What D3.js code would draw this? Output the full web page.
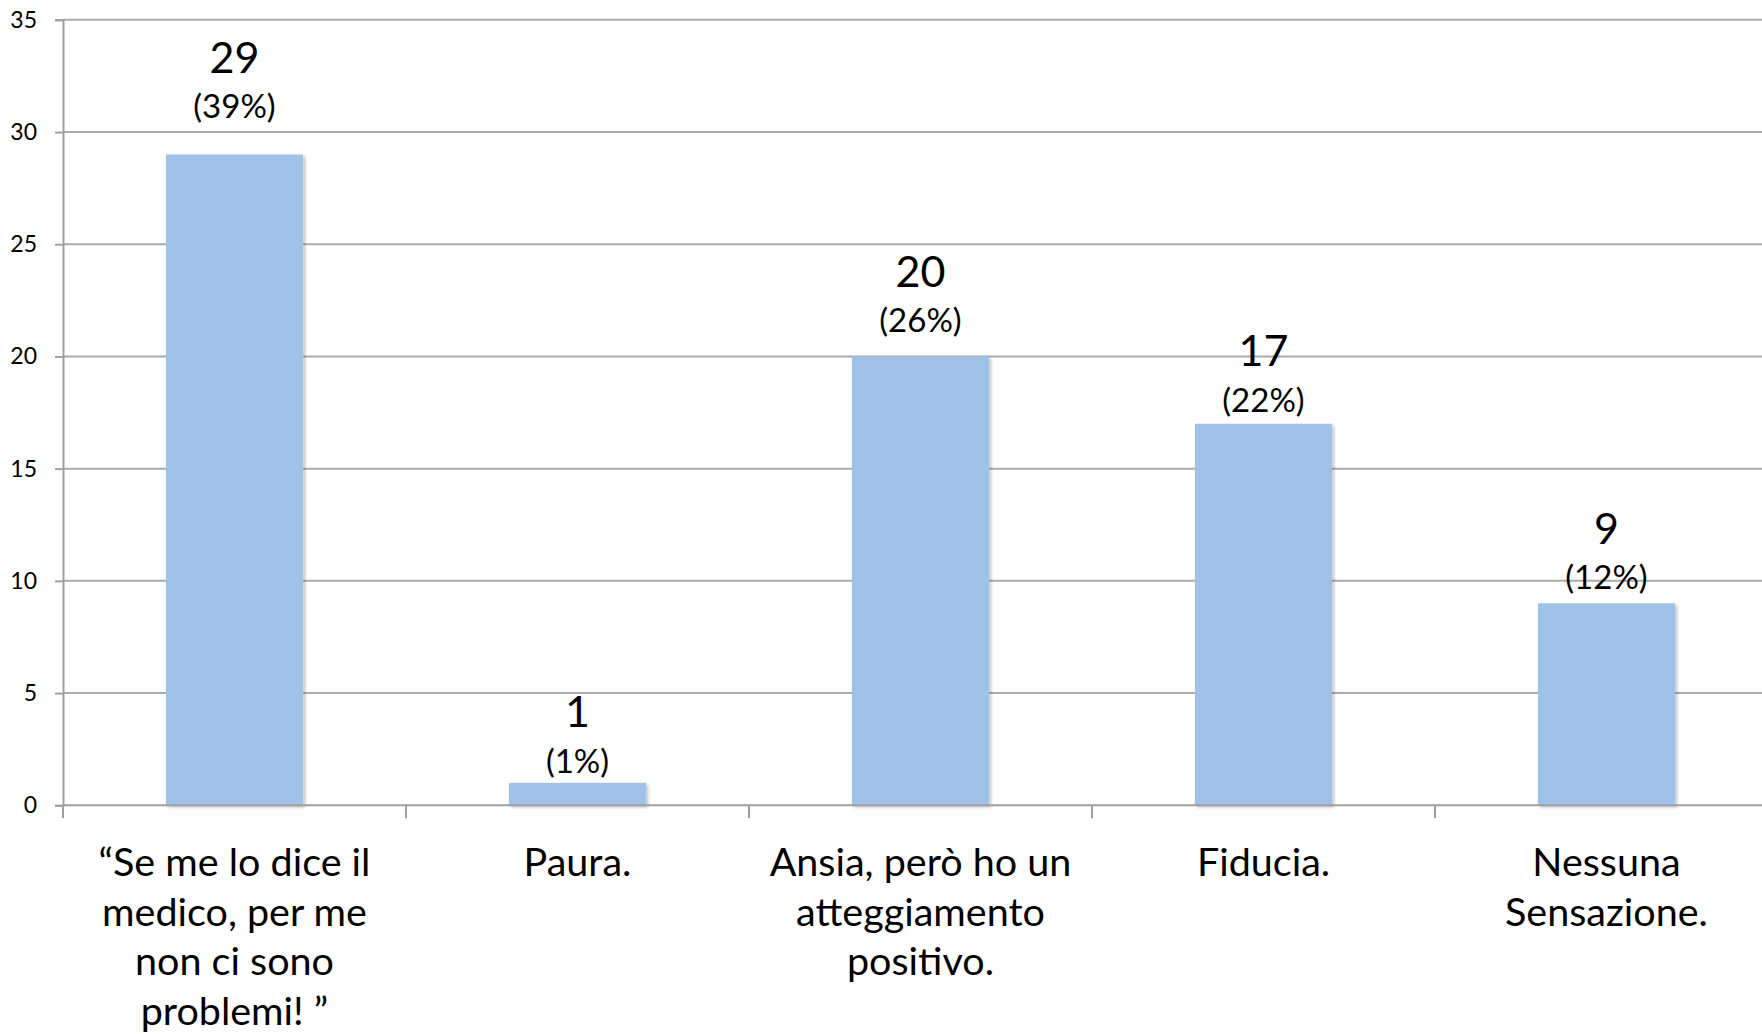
<!DOCTYPE html>
<html>
<head>
<meta charset="utf-8">
<script src="https://cdn.jsdelivr.net/npm/d3@7"></script>
<style>
    body { margin: 0; background: #fff; }
    svg { display: block; font-family: Lato, "Open Sans", sans-serif; }
</style>
</head>
<body>
<div id="chart"></div>
<script>
// categories (line breaks as in the original chart)
const categories = [
    "“Se me lo dice il\nmedico, per me\nnon ci sono\nproblemi! ”",
    "Paura.",
    "Ansia, però ho un\natteggiamento\npositivo.",
    "Fiducia.",
    "Nessuna\nSensazione."
];
const counts = [29, 1, 20, 17, 9];
const percents = [39, 1, 26, 22, 12];
const yTicks = [0, 5, 10, 15, 20, 25, 30, 35];

// how far above the bar top the "(x%)" label sits, in px (labels were hand placed)
const labelLift = [36, 10, 24, 12, 14];

const width = 1762, height = 1034;
const plotLeft = 63, plotRight = 1778, plotTop = 19.8, plotBottom = 805.3;

const svg = d3.select("#chart").append("svg")
    .attr("width", width)
    .attr("height", height);

svg.append("rect").attr("width", width).attr("height", height).attr("fill", "#fff");

// soft shadow under the bars
const shadow = svg.append("defs").append("filter")
    .attr("id", "shadow")
    .attr("x", "-10%").attr("y", "-10%")
    .attr("width", "130%").attr("height", "130%");
shadow.append("feDropShadow")
    .attr("dx", 2).attr("dy", 2)
    .attr("stdDeviation", 1.5)
    .attr("flood-color", "#000")
    .attr("flood-opacity", 0.25);

const x = d3.scaleBand()
    .domain(d3.range(categories.length))
    .range([plotLeft, plotRight])
    .padding(0);

const y = d3.scaleLinear()
    .domain([0, 35])
    .range([plotBottom, plotTop]);

const barW = x.bandwidth() * 0.4;

// gridlines
svg.append("g")
    .selectAll("line")
    .data(yTicks.filter(d => d > 0))
    .join("line")
    .attr("x1", plotLeft).attr("x2", plotRight)
    .attr("y1", d => y(d)).attr("y2", d => y(d))
    .attr("stroke", "#ababab")
    .attr("stroke-width", 2);

// y axis
const yAxis = svg.append("g")
    .attr("transform", `translate(${plotLeft},0)`)
    .call(d3.axisLeft(y).tickValues(yTicks).tickSize(8).tickPadding(18));
yAxis.select(".domain").attr("stroke", "#a0a0a0").attr("stroke-width", 2);
yAxis.selectAll(".tick line").attr("stroke", "#a0a0a0").attr("stroke-width", 2);
yAxis.selectAll(".tick text")
    .attr("font-family", "Lato, sans-serif")
    .attr("font-size", 23)
    .attr("fill", "#000");

// bars
svg.append("g")
    .selectAll("rect")
    .data(counts)
    .join("rect")
    .attr("x", (d, i) => x(i) + (x.bandwidth() - barW) / 2)
    .attr("y", d => y(d))
    .attr("width", barW)
    .attr("height", d => y(0) - y(d))
    .attr("fill", "#a0c2e8")
    .attr("filter", "url(#shadow)");

// x axis line and category ticks
svg.append("line")
    .attr("x1", plotLeft).attr("x2", plotRight)
    .attr("y1", plotBottom).attr("y2", plotBottom)
    .attr("stroke", "#a0a0a0")
    .attr("stroke-width", 2);

svg.append("g")
    .selectAll("line")
    .data(d3.range(categories.length + 1))
    .join("line")
    .attr("x1", i => plotLeft + i * x.step())
    .attr("x2", i => plotLeft + i * x.step())
    .attr("y1", plotBottom)
    .attr("y2", plotBottom + 13)
    .attr("stroke", "#a0a0a0")
    .attr("stroke-width", 2);

// data labels
const labels = svg.append("g").attr("text-anchor", "middle").attr("fill", "#000");
counts.forEach((c, i) => {
    const cx = x(i) + x.bandwidth() / 2;
    const base = y(c) - labelLift[i];
    labels.append("text")
        .attr("x", cx).attr("y", base)
        .attr("font-size", 33)
        .text(`(${percents[i]}%)`);
    labels.append("text")
        .attr("x", cx).attr("y", base - 45.5)
        .attr("font-size", 43)
        .text(c);
});

// category labels
const cat = svg.append("g").attr("text-anchor", "middle").attr("fill", "#000");
categories.forEach((name, i) => {
    const t = cat.append("text")
        .attr("x", x(i) + x.bandwidth() / 2)
        .attr("y", 876)
        .attr("font-size", 39.5);
    name.split("\n").forEach((line, k) => {
        t.append("tspan")
            .attr("x", x(i) + x.bandwidth() / 2)
            .attr("dy", k === 0 ? 0 : 49.5)
            .text(line);
    });
});
</script>
</body>
</html>
